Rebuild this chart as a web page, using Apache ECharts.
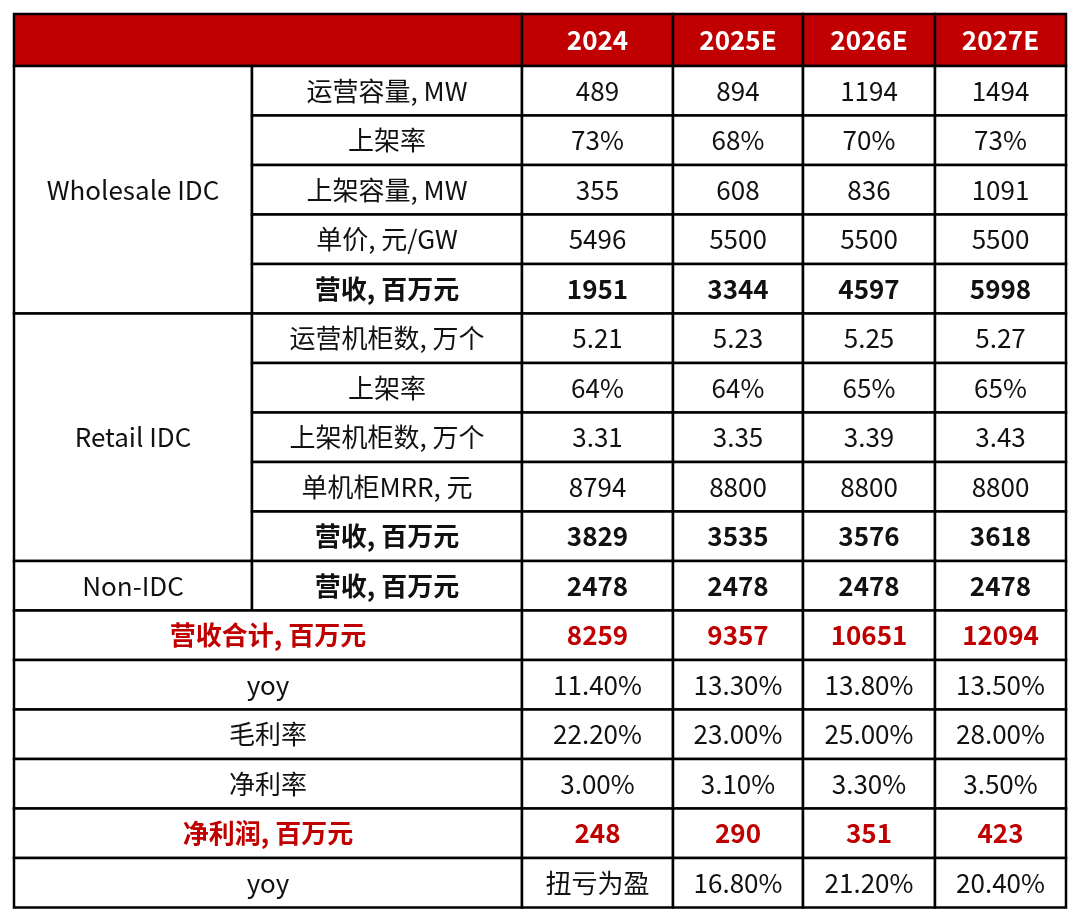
<!DOCTYPE html>
<html><head><meta charset="utf-8">
<script src="https://cdn.jsdelivr.net/npm/echarts@6/dist/echarts.min.js"></script>
<style>html,body{margin:0;padding:0;background:#fff}#c{width:1080px;height:920px}</style>
</head><body><div id="c"></div>
<script>
// ---- data ----
const years = ['2024','2025E','2026E','2027E'];
const groups = ['Wholesale IDC','Retail IDC','Non-IDC'];
const wholesaleLabels = ['运营容量, MW','上架率','上架容量, MW','单价, 元/GW','营收, 百万元'];
const wholesaleValues = [
  ['489','894','1194','1494'],
  ['73%','68%','70%','73%'],
  ['355','608','836','1091'],
  ['5496','5500','5500','5500'],
  ['1951','3344','4597','5998']
];
const retailLabels = ['运营机柜数, 万个','上架率','上架机柜数, 万个','单机柜MRR, 元','营收, 百万元'];
const retailValues = [
  ['5.21','5.23','5.25','5.27'],
  ['64%','64%','65%','65%'],
  ['3.31','3.35','3.39','3.43'],
  ['8794','8800','8800','8800'],
  ['3829','3535','3576','3618']
];
const nonIdcLabel = '营收, 百万元';
const nonIdcValues = ['2478','2478','2478','2478'];
const summaryLabels = ['营收合计, 百万元','yoy','毛利率','净利率','净利润, 百万元','yoy'];
const summaryValues = [
  ['8259','9357','10651','12094'],
  ['11.40%','13.30%','13.80%','13.50%'],
  ['22.20%','23.00%','25.00%','28.00%'],
  ['3.00%','3.10%','3.30%','3.50%'],
  ['248','290','351','423'],
  ['扭亏为盈','16.80%','21.20%','20.40%']
];
const summaryStyle = ['red','plain','plain','plain','red','plain'];

// ---- layout ----
const colEdges = [14, 252, 522, 673, 803, 935, 1066];
const tableTop = 14, headH = 52, rowH = 49.5;
const rowTop = r => r === 0 ? tableTop : tableTop + headH + (r - 1) * rowH;
const rowBot = r => tableTop + headH + r * rowH;
const RED = '#c00000';

const cells = [];
function add(c0, c1, r0, r1, text, kind) {
  cells.push([colEdges[c0], colEdges[c1], rowTop(r0), rowBot(r1), text, kind]);
}
add(0, 2, 0, 0, '', 'head');
years.forEach((y, i) => add(2 + i, 3 + i, 0, 0, y, 'head'));
let r = 1;
[[wholesaleLabels, wholesaleValues], [retailLabels, retailValues]].forEach(([labs, vals], g) => {
  add(0, 1, r, r + labs.length - 1, groups[g], 'plain');
  labs.forEach((l, i) => {
    const bold = i === labs.length - 1 ? 'bold' : 'plain';
    add(1, 2, r + i, r + i, l, bold);
    vals[i].forEach((v, j) => add(2 + j, 3 + j, r + i, r + i, v, bold));
  });
  r += labs.length;
});
add(0, 1, r, r, groups[2], 'plain');
add(1, 2, r, r, nonIdcLabel, 'bold');
nonIdcValues.forEach((v, j) => add(2 + j, 3 + j, r, r, v, 'bold'));
r++;
summaryLabels.forEach((l, i) => {
  add(0, 2, r, r, l, summaryStyle[i]);
  summaryValues[i].forEach((v, j) => add(2 + j, 3 + j, r, r, v, summaryStyle[i]));
  r++;
});

const chart = echarts.init(document.getElementById('c'));
chart.setOption({
  animation: false,
  grid: { left: 0, right: 0, top: 0, bottom: 0 },
  xAxis: { type: 'value', min: 0, max: 1080, show: false },
  yAxis: { type: 'value', min: 0, max: 920, inverse: true, show: false },
  series: [{
    type: 'custom',
    data: cells.map(c => [c[0], c[2]]),
    renderItem(params, api) {
      const d = cells[params.dataIndex];
      const p0 = api.coord([d[0], d[2]]), p1 = api.coord([d[1], d[3]]);
      const kind = d[5];
      const fill = kind === 'head' ? RED : '#fff';
      const color = kind === 'head' ? '#fff' : (kind === 'red' ? RED : '#111');
      const weight = kind === 'plain' ? 'normal' : 'bold';
      return {
        type: 'group',
        children: [
          { type: 'rect', shape: { x: p0[0], y: p0[1], width: p1[0] - p0[0], height: p1[1] - p0[1] },
            style: { fill: fill, stroke: '#000', lineWidth: 2.5 } },
          { type: 'text', style: { text: d[4], x: (p0[0] + p1[0]) / 2, y: (p0[1] + p1[1]) / 2,
            align: 'center', verticalAlign: 'middle', fill: color, fontWeight: weight,
            fontSize: 26, fontFamily: '"Noto Sans CJK SC", "Open Sans", sans-serif' } }
        ]
      };
    }
  }]
});
</script></body></html>
